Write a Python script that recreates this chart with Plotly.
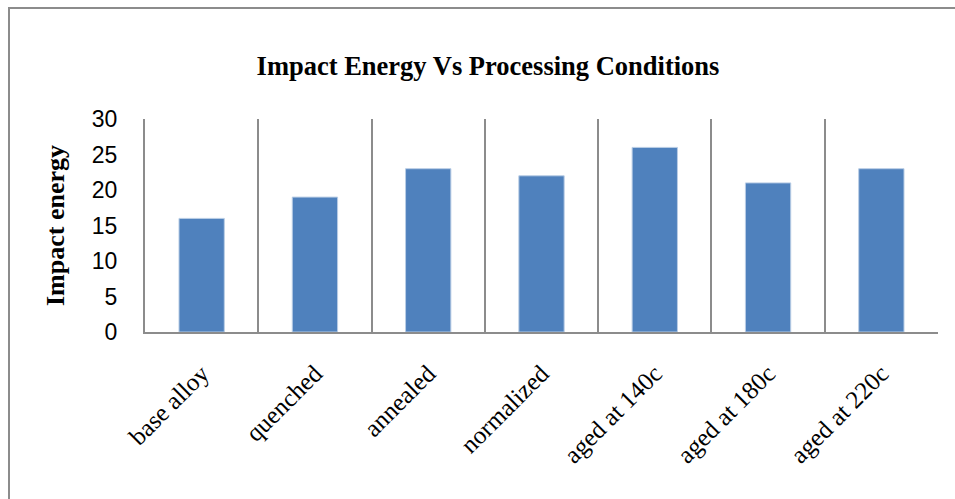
import plotly.graph_objects as go

categories = ["base alloy", "quenched", "annealed", "normalized",
              "aged at 140c", "aged at 180c", "aged at 220c"]
impact_energy = [16, 19, 23, 22, 26, 21, 23]
y_ticks = [0, 5, 10, 15, 20, 25, 30]

fig = go.Figure(go.Bar(
    x=categories, y=impact_energy,
    marker=dict(color="#4F81BD", line=dict(color="#B9CDE5", width=1)),
))

W, H = 955, 499
L, R, T, B = 145, 955 - 938, 119, 499 - 332
pw, ph = W - L - R, H - T - B

def px(x):
    return (x - L) / pw

def py(y):
    return (H - B - y) / ph

fig.update_layout(
    width=W, height=H,
    margin=dict(l=L, r=R, t=T, b=B),
    paper_bgcolor="white", plot_bgcolor="white",
    bargap=0.6,
    showlegend=False,
    title=dict(text="<b>Impact Energy Vs Processing Conditions</b>",
               x=488 / W, xanchor="center",
               y=1 - 66 / H, yanchor="middle",
               font=dict(family="Liberation Serif", size=26.5, color="black")),
    xaxis=dict(
        type="category", tickson="boundaries",
        showgrid=True, gridcolor="#8C8C8C", gridwidth=1.5,
        showline=True, linecolor="#8C8C8C", linewidth=2,
        ticks="", tickangle=-45, ticklabelstandoff=15,
        tickfont=dict(family="Liberation Serif", size=25, color="black"),
    ),
    yaxis=dict(
        range=[0, 30], tickvals=y_ticks,
        showgrid=False, zeroline=False,
        showline=True, linecolor="#8C8C8C", linewidth=2,
        ticks="", ticklabelstandoff=21,
        tickfont=dict(family="Liberation Sans", size=23, color="black"),
        title=dict(text="<b>Impact energy</b>", standoff=20,
                   font=dict(family="Liberation Serif", size=26, color="black")),
    ),
    shapes=[dict(type="rect", xref="paper", yref="paper",
                 x0=px(9), x1=px(975), y0=py(8), y1=py(520),
                 line=dict(color="#8C8C8C", width=2), fillcolor="rgba(0,0,0,0)",
                 layer="below")],
)

fig.write_html("out.html",
               config={"displayModeBar": False},
               post_script="document.body.style.margin='0';"
                           "document.body.style.overflow='hidden';")
